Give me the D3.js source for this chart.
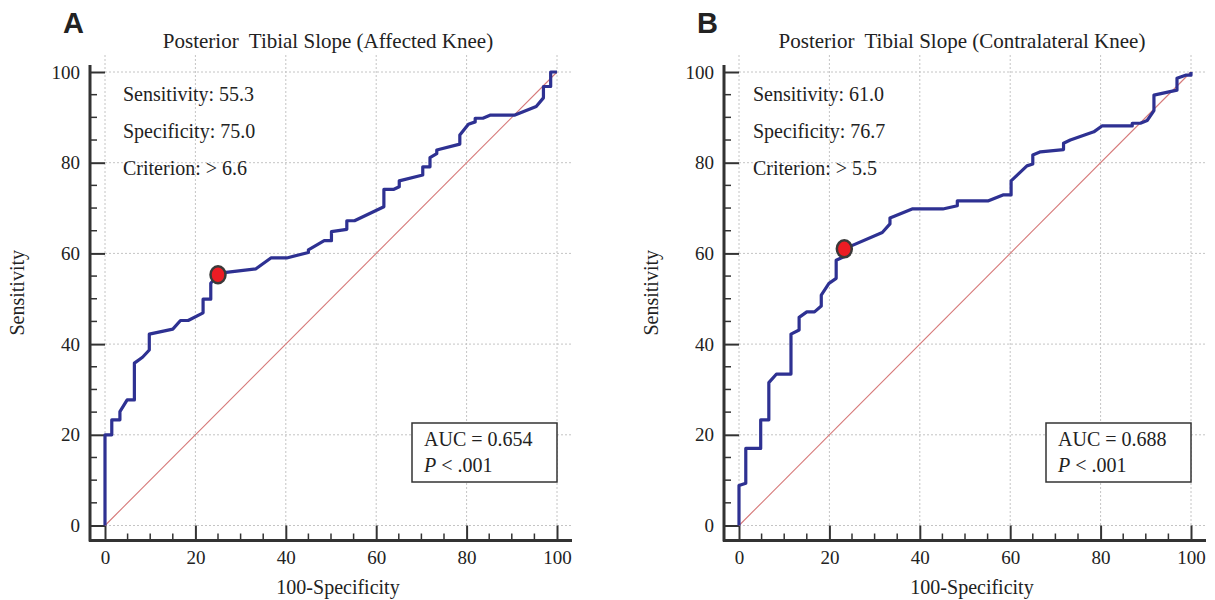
<!DOCTYPE html>
<html>
<head>
<meta charset="utf-8">
<script src="https://d3js.org/d3.v7.min.js"></script>
<style>
  body { margin: 0; background: #fff; }
  text { font-family: "Liberation Serif", "Times New Roman", serif; fill: #222; }
</style>
</head>
<body>
<div id="my_dataviz"></div>
<script>

// ROC curves (100-specificity, sensitivity)
let fprA = [0, 0, 1.5, 1.5, 3.3, 3.3, 4.9, 6.5, 6.5, 8.3, 9.8, 9.8, 15.0, 16.7, 18.4, 21.7, 21.7, 23.4, 23.4, 25.0,
  26.8, 33.4, 36.7, 40.2, 45.0, 45.0, 48.5, 50.1, 50.1, 53.5, 53.5, 55.2, 61.7, 61.7, 63.8, 65.1, 65.1, 70.3, 70.3,
  71.9, 71.9, 73.4, 73.4, 78.5, 78.5, 80.4, 81.9, 81.9, 83.6, 85.3, 90.7, 95.4, 97.0, 97.0, 98.6, 98.6, 100];
let tprA = [0, 20, 20, 23.3, 23.3, 25.1, 27.7, 27.7, 35.8, 37.1, 38.7, 42.2, 43.3, 45.2, 45.2, 46.9, 49.9, 49.9, 53.4, 55.3,
  55.8, 56.6, 59.0, 59.0, 60.2, 60.8, 62.8, 62.8, 64.8, 65.3, 67.2, 67.2, 70.3, 74.1, 74.1, 74.7, 76.0, 77.3, 79.1,
  79.1, 81.1, 82.0, 82.8, 84.1, 86.1, 88.5, 89.0, 89.8, 89.8, 90.5, 90.5, 92.4, 94.3, 96.8, 96.8, 100, 100];

let fprB = [0, 0, 1.5, 1.5, 4.8, 4.8, 6.6, 6.6, 8.3, 11.5, 11.5, 13.3, 13.3, 15.0, 16.7, 18.2, 18.2, 19.9, 21.5, 21.5,
  23.3, 23.3, 31.7, 33.4, 33.4, 38.3, 45.1, 48.3, 48.3, 55.2, 58.4, 60.2, 60.2, 61.6, 63.7, 65.0, 65.0, 66.7, 71.8,
  71.8, 73.3, 78.5, 80.3, 87.0, 87.0, 88.8, 90.3, 91.8, 91.8, 96.9, 96.9, 98.8, 100, 100];
let tprB = [0, 8.8, 9.3, 17.0, 17.0, 23.3, 23.3, 31.5, 33.4, 33.4, 42.2, 43.1, 45.9, 47.1, 47.1, 48.4, 50.8, 53.4, 54.5, 58.5,
  59.3, 61.0, 64.6, 66.5, 67.8, 69.8, 69.8, 70.5, 71.6, 71.6, 72.9, 72.9, 76.0, 77.3, 79.3, 79.7, 81.7, 82.4, 82.9,
  84.3, 85.0, 86.8, 88.1, 88.1, 88.7, 88.7, 89.3, 91.5, 94.9, 96.0, 98.6, 99.3, 99.3, 100];

// optimal cut-off points
let cutFpr = [25.0, 23.3];
let cutTpr = [55.3, 61.0];

// labels
let panelLetters = ["A", "B"];
let titles = ["Posterior\u00a0 Tibial Slope (Affected Knee)", "Posterior\u00a0 Tibial Slope (Contralateral Knee)"];
let statLines = [
  ["Sensitivity: 55.3", "Specificity: 75.0", "Criterion: > 6.6"],
  ["Sensitivity: 61.0", "Specificity: 76.7", "Criterion: > 5.5"]
];
let aucLabels = ["AUC = 0.654", "AUC = 0.688"];
let pLabels = [" < .001", " < .001"];
let majorTicks = [0, 20, 40, 60, 80, 100];
let minorTicks = [5, 10, 15, 25, 30, 35, 45, 50, 55, 65, 70, 75, 85, 90, 95];

// set the dimensions of the page and each plot
let svgWidth = 1215, svgHeight = 600;
let plotLefts = [105, 739],
  plotTop = 72,
  width = 452,
  height = 453.5,
  gap = 15;

let svg = d3.select("#my_dataviz")
.append("svg")
  .attr("width", svgWidth)
  .attr("height", svgHeight);

let series = [
  {fpr: fprA, tpr: tprA, statDx: 18},
  {fpr: fprB, tpr: tprB, statDx: 14}
];

series.forEach(function(s, i) {
  let g = svg.append("g")
    .attr("transform", "translate(" + plotLefts[i] + "," + plotTop + ")");

  let x = d3.scaleLinear().domain([0, 100]).range([0, width]);
  let y = d3.scaleLinear().domain([0, 100]).range([height, 0]);

  // grid
  g.append("g")
    .selectAll("line")
    .data(majorTicks)
    .enter()
    .append("line")
      .attr("x1", 0).attr("x2", width + gap)
      .attr("y1", function(d) { return y(d); })
      .attr("y2", function(d) { return y(d); })
      .attr("stroke", "#c4c4c4")
      .attr("stroke-dasharray", "2,2");
  g.append("g")
    .selectAll("line")
    .data(majorTicks)
    .enter()
    .append("line")
      .attr("y1", -gap - 2).attr("y2", height)
      .attr("x1", function(d) { return x(d); })
      .attr("x2", function(d) { return x(d); })
      .attr("stroke", "#c4c4c4")
      .attr("stroke-dasharray", "2,2");

  // Add X axis (offset below the plot, ticks pointing up)
  let xAxis = g.append("g")
    .attr("transform", "translate(0," + (height + gap) + ")")
    .call(d3.axisBottom(x).tickValues(majorTicks).tickSize(-gap).tickPadding(10).tickSizeOuter(0));
  xAxis.append("g")
    .selectAll("line")
    .data(minorTicks)
    .enter()
    .append("line")
      .attr("x1", function(d) { return x(d); })
      .attr("x2", function(d) { return x(d); })
      .attr("y1", 0).attr("y2", -7)
      .attr("stroke", "#333")
      .attr("stroke-width", 1.5);
  xAxis.select(".domain").remove();
  xAxis.append("line")
    .attr("x1", -gap - 1).attr("x2", width + gap)
    .attr("y1", 0).attr("y2", 0)
    .attr("stroke", "#333").attr("stroke-width", 3);
  xAxis.selectAll(".tick text").attr("y", 10.5);

  // Add Y axis
  let yAxis = g.append("g")
    .attr("transform", "translate(" + (-gap) + ",0)")
    .call(d3.axisLeft(y).tickValues(majorTicks).tickSize(-gap).tickPadding(10).tickSizeOuter(0));
  yAxis.append("g")
    .selectAll("line")
    .data(minorTicks)
    .enter()
    .append("line")
      .attr("y1", function(d) { return y(d); })
      .attr("y2", function(d) { return y(d); })
      .attr("x1", 0).attr("x2", 7)
      .attr("stroke", "#333")
      .attr("stroke-width", 1.5);
  yAxis.select(".domain").remove();
  yAxis.append("line")
    .attr("x1", 0).attr("x2", 0)
    .attr("y1", -7).attr("y2", height + gap + 1)
    .attr("stroke", "#333").attr("stroke-width", 3);
  yAxis.selectAll(".tick text").attr("x", -10);

  g.selectAll(".tick line").attr("stroke", "#333").attr("stroke-width", 2);
  g.selectAll(".tick text")
    .style("font-family", "Liberation Serif")
    .style("font-size", "19px")
    .attr("fill", "#222");

  // diagonal reference line
  g.append("path")
    .datum([[0, 0], [100, 100]])
    .attr("fill", "none")
    .attr("stroke", "#d67878")
    .attr("stroke-width", 1.1)
    .attr("d", d3.line()
      .x(function(d) { return x(d[0]); })
      .y(function(d) { return y(d[1]); }));

  // ROC curve
  let pts = s.fpr.map(function(d, k) { return [d, s.tpr[k]]; });
  g.append("path")
    .datum(pts)
    .attr("fill", "none")
    .attr("stroke", "#2e3192")
    .attr("stroke-width", 3.2)
    .attr("stroke-linejoin", "round")
    .attr("d", d3.line()
      .x(function(d) { return x(d[0]); })
      .y(function(d) { return y(d[1]); }));

  // cut-off point
  g.append("ellipse")
    .attr("cx", x(cutFpr[i]))
    .attr("cy", y(cutTpr[i]))
    .attr("rx", 7.5).attr("ry", 8.5)
    .attr("fill", "#ec1c24")
    .attr("stroke", "#3a3a3a")
    .attr("stroke-width", 2.5);

  // stats text
  g.append("g")
    .selectAll("text")
    .data(statLines[i])
    .enter()
    .append("text")
      .attr("x", s.statDx)
      .attr("y", function(d, k) { return 29 + k * 37; })
      .style("font-size", "20px")
      .text(function(d) { return d; });

  // AUC box
  let box = g.append("g").attr("transform", "translate(" + (width - 145) + ",351)");
  box.append("rect")
    .attr("width", 145).attr("height", 59)
    .attr("fill", "#fff")
    .attr("stroke", "#333")
    .attr("stroke-width", 1.5);
  box.append("text")
    .attr("x", 12).attr("y", 23)
    .style("font-size", "20px")
    .text(aucLabels[i]);
  let pt = box.append("text")
    .attr("x", 12).attr("y", 49)
    .style("font-size", "20px");
  pt.append("tspan").style("font-style", "italic").text("P");
  pt.append("tspan").text(pLabels[i]);

  // titles and axis labels
  g.append("text")
    .attr("x", width / 2 - 3)
    .attr("y", -24)
    .attr("text-anchor", "middle")
    .style("font-size", "21px")
    .text(titles[i]);
  g.append("text")
    .attr("x", -42)
    .attr("y", -39)
    .style("font-family", "Liberation Sans")
    .style("font-weight", "bold")
    .style("font-size", "29px")
    .text(panelLetters[i]);
  g.append("text")
    .attr("x", width / 2 + 7)
    .attr("y", height + 68)
    .attr("text-anchor", "middle")
    .style("font-size", "20px")
    .text("100-Specificity");
  g.append("text")
    .attr("transform", "translate(-81," + (height / 2 - 6) + ") rotate(-90)")
    .attr("text-anchor", "middle")
    .style("font-size", "20px")
    .text("Sensitivity");
});

</script>
</body>
</html>
